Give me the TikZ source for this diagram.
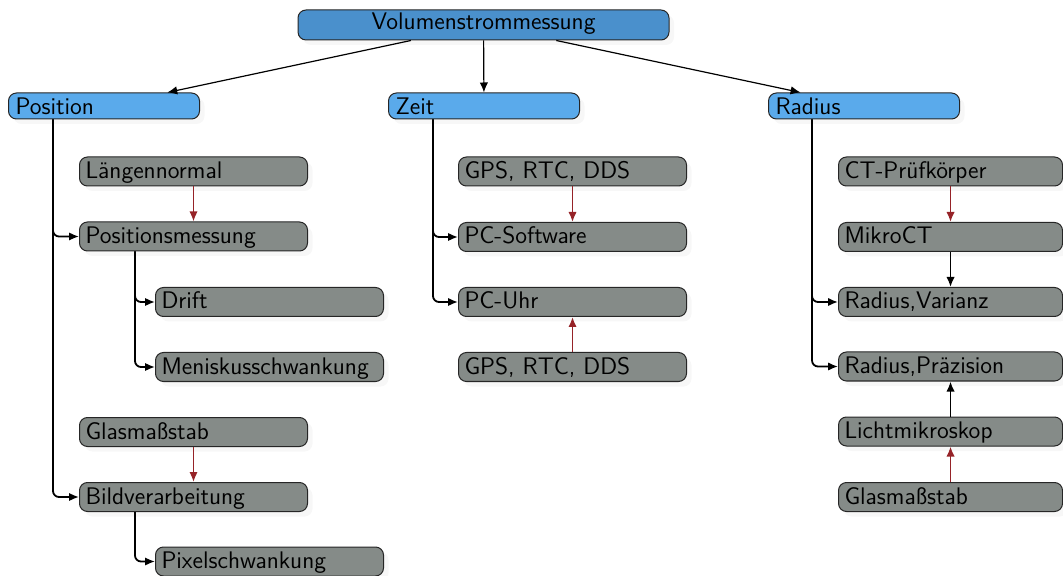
\documentclass[tikz,border=0pt]{standalone}
\usepackage{fontspec}
\usetikzlibrary{arrows.meta,shadows}
\definecolor{topblue}{RGB}{74,144,204}
\definecolor{catblue}{RGB}{90,170,235}
\definecolor{itemgrey}{RGB}{133,139,136}
\definecolor{linkred}{RGB}{150,35,40}

\begin{document}
\begin{tikzpicture}[x=0.5pt,y=-0.5pt,
  font=\sffamily\fontsize{12}{14}\selectfont,
  box/.style={draw=black!85, line width=0.5pt, rounded corners=4pt,
    general shadow={fill=black!3, shadow xshift=2.5pt, shadow yshift=-2.5pt}},
  rootbox/.style={box, fill=topblue, minimum width=185.5pt, minimum height=15pt,
    text height=8.5pt, text depth=3.5pt, inner ysep=1pt},
  catbox/.style={box, fill=catblue, anchor=west, text width=88.5pt, inner xsep=3.5pt,
    align=left, minimum height=13pt, text height=10pt, text depth=1pt, inner ysep=1pt},
  itembox/.style={box, fill=itemgrey, anchor=west, text width=108pt, inner xsep=3pt,
    align=left, minimum height=14.5pt, text height=9.5pt, text depth=2.5pt, inner ysep=1pt},
  narrowitem/.style={itembox, text width=106pt},
  tip/.style={-{Latex[length=5pt,width=4.2pt]}},
  toplink/.style={tip, line width=0.6pt},
  branch/.style={tip, line width=0.9pt, rounded corners=3pt},
  feed/.style={tip, line width=0.9pt},
  source/.style={tip, line width=0.9pt, draw=linkred},
]
\useasboundingbox (0,0) rectangle (1063,576);

% root and categories
\node[rootbox] (root) at (483.5,25) {Volumenstrommessung};
\node[catbox] (pos) at (8,106) {Position};
\node[catbox] (zeit) at (388,106) {Zeit};
\node[catbox] (rad) at (768,106) {Radius};

% Position column
\node[itembox] (laeng) at (79,171.5) {Längennormal};
\node[itembox] (posm) at (79,236.5) {Positionsmessung};
\node[itembox] (drift) at (155,302) {Drift};
\node[itembox] (menis) at (155,367) {Meniskusschwankung};
\node[itembox] (glasl) at (79,432) {Glasmaßstab};
\node[itembox] (bild) at (79,497) {Bildverarbeitung};
\node[itembox] (pixel) at (155,561.5) {Pixelschwankung};

% Zeit column
\node[itembox] (gpsa) at (458,171.5) {GPS, RTC, DDS};
\node[itembox] (pcsw) at (458,237) {PC-Software};
\node[itembox] (pcuhr) at (458,302) {PC-Uhr};
\node[itembox] (gpsb) at (458,367) {GPS, RTC, DDS};

% Radius column
\node[narrowitem] (ct) at (838,171.5) {CT-Prüfkörper};
\node[narrowitem] (mikro) at (838,237) {MikroCT};
\node[narrowitem] (rvar) at (838,302) {Radius,Varianz};
\node[narrowitem] (rpraez) at (838,366.5) {Radius,Präzision};
\node[narrowitem] (licht) at (838,431.5) {Lichtmikroskop};
\node[narrowitem] (glasr) at (838,497) {Glasmaßstab};

% root to categories
\draw[toplink] (root) -- (pos);
\draw[toplink] (root) -- (zeit);
\draw[toplink] (root) -- (rad);

% branches
\draw[branch] ([xshift=22.5pt]pos.south west) |- (posm.west);
\draw[branch] ([xshift=22.5pt]pos.south west) |- (bild.west);
\draw[branch] ([xshift=28pt]posm.south west) |- (drift.west);
\draw[branch] ([xshift=28pt]posm.south west) |- (menis.west);
\draw[branch] ([xshift=28pt]bild.south west) |- (pixel.west);
\draw[branch] ([xshift=22.5pt]zeit.south west) |- (pcsw.west);
\draw[branch] ([xshift=22.5pt]zeit.south west) |- (pcuhr.west);
\draw[branch] ([xshift=22pt]rad.south west) |- (rvar.west);
\draw[branch] ([xshift=22pt]rad.south west) |- (rpraez.west);

% references and instruments
\draw[source] (laeng) -- (posm);
\draw[source] (glasl) -- (bild);
\draw[source] (gpsa) -- (pcsw);
\draw[source] (gpsb) -- (pcuhr);
\draw[source] (ct) -- (mikro);
\draw[source] (glasr) -- (licht);
\draw[feed] (mikro) -- (rvar);
\draw[feed] (licht) -- (rpraez);
\end{tikzpicture}
\end{document}
